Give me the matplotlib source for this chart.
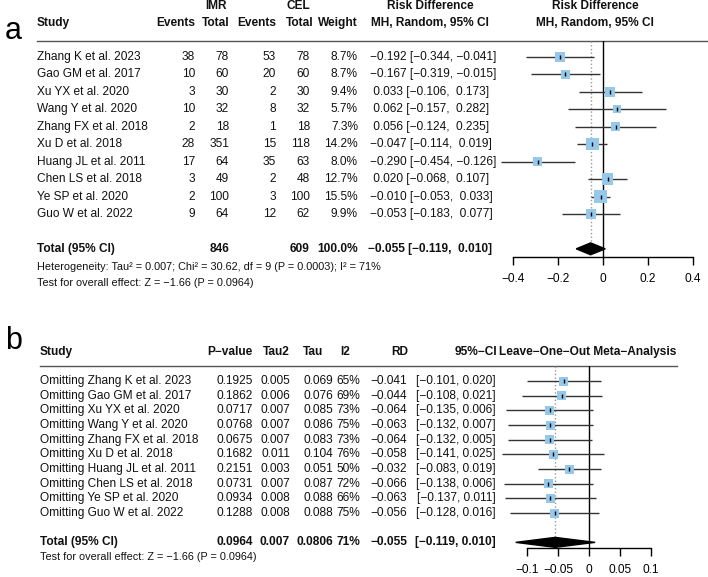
import numpy as np
import matplotlib
matplotlib.use("Agg")
import matplotlib.pyplot as plt
from matplotlib.transforms import blended_transform_factory

plt.rcParams['font.family'] = ['Liberation Sans', 'DejaVu Sans']

# ---- panel a data ----
studies = ["Zhang K et al. 2023", "Gao GM et al. 2017", "Xu YX et al. 2020",
           "Wang Y et al. 2020", "Zhang FX et al. 2018", "Xu D et al. 2018",
           "Huang JL et al. 2011", "Chen LS et al. 2018", "Ye SP et al. 2020",
           "Guo W et al. 2022"]
imr_events = [38, 10, 3, 10, 2, 28, 17, 3, 2, 9]
imr_total = [78, 60, 30, 32, 18, 351, 64, 49, 100, 64]
cel_events = [53, 20, 2, 8, 1, 15, 35, 2, 3, 12]
cel_total = [78, 60, 30, 32, 18, 118, 63, 48, 100, 62]
weight = [8.7, 8.7, 9.4, 5.7, 7.3, 14.2, 8.0, 12.7, 15.5, 9.9]
rd = [-0.192, -0.167, 0.033, 0.062, 0.056, -0.047, -0.290, 0.020, -0.010, -0.053]
rd_lo = [-0.344, -0.319, -0.106, -0.157, -0.124, -0.114, -0.454, -0.068, -0.053, -0.183]
rd_hi = [-0.041, -0.015, 0.173, 0.282, 0.235, 0.019, -0.126, 0.107, 0.033, 0.077]
tot_imr, tot_cel = 846, 609
pooled = (-0.055, -0.119, 0.010)
a_ticks = [-0.4, -0.2, 0, 0.2, 0.4]
a_ticklabels = ["\u22120.4", "\u22120.2", "0", "0.2", "0.4"]

# ---- panel b data (leave-one-out) ----
pval = [0.1925, 0.1862, 0.0717, 0.0768, 0.0675, 0.1682, 0.2151, 0.0731, 0.0934, 0.1288]
tau2 = [0.005, 0.006, 0.007, 0.007, 0.007, 0.011, 0.003, 0.007, 0.008, 0.008]
tau = [0.069, 0.076, 0.085, 0.086, 0.083, 0.104, 0.051, 0.087, 0.088, 0.088]
i2 = [65, 69, 73, 75, 73, 76, 50, 72, 66, 75]
loo_rd = [-0.041, -0.044, -0.064, -0.063, -0.064, -0.058, -0.032, -0.066, -0.063, -0.056]
loo_lo = [-0.101, -0.108, -0.135, -0.132, -0.132, -0.141, -0.083, -0.138, -0.137, -0.128]
loo_hi = [0.020, 0.021, 0.006, 0.007, 0.005, 0.025, 0.019, 0.006, 0.011, 0.016]
loo_total = ("0.0964", "0.007", "0.0806", "71%")
b_ticks = [-0.1, -0.05, 0, 0.05, 0.1]
b_ticklabels = ["\u22120.1", "\u22120.05", "0", "0.05", "0.1"]

W, H = 708, 577
FS = 8.6
SQ = '#96c8ea'
LC = '#333333'
M = "\u2212"

fig = plt.figure(figsize=(W / 100, H / 100), dpi=100)


def num(v, pad=True):
    s = f"{abs(v):.3f}"
    if v < 0:
        return M + s
    return (" " + s) if pad else s


def forest_axes(x0, x1, ytop, ybot, zero_px, scale, row0, step):
    ax = fig.add_axes([x0 / W, 1 - ybot / H, (x1 - x0) / W, (ybot - ytop) / H])
    ax.set_xlim((x0 - zero_px) / scale, (x1 - zero_px) / scale)
    ax.set_ylim((ybot - row0) / step, (ytop - row0) / step)
    for s in ['left', 'right', 'top']:
        ax.spines[s].set_visible(False)
    ax.set_yticks([])
    ax.patch.set_alpha(0)
    return ax


def finish_axis(ax, ticks, labels, pad):
    ax.set_xticks(ticks)
    ax.set_xticklabels(labels)
    ax.spines['bottom'].set_bounds(ticks[0], ticks[-1])
    ax.spines['bottom'].set_linewidth(1)
    ax.tick_params(axis='x', length=6, width=1, pad=pad, labelsize=FS)


# ================= panel a =================
row0, step = 57, 17.44
axa = forest_axes(480, 700, 41, 257, 603, 225, row0, step)
Ta = blended_transform_factory(fig.transFigure, axa.transData)
rows = np.arange(len(studies))
top_a = axa.get_ylim()[1]


def ra(px):
    return (px - row0) / step


def txt(ax, T, x, y, s, ha='left', bold=False, fs=FS):
    ax.text(x / W, y, s, transform=T, ha=ha, va='center', fontsize=fs,
            fontweight='bold' if bold else 'normal', color='#111111')


# header
txt(axa, Ta, 216, ra(6), "IMR", ha='center', bold=True)
txt(axa, Ta, 298, ra(6), "CEL", ha='center', bold=True)
txt(axa, Ta, 430, ra(6), "Risk Difference", ha='center', bold=True)
txt(axa, Ta, 595, ra(6), "Risk Difference", ha='center', bold=True)
txt(axa, Ta, 37, ra(23), "Study", bold=True)
txt(axa, Ta, 195, ra(23), "Events", ha='right', bold=True)
txt(axa, Ta, 229, ra(23), "Total", ha='right', bold=True)
txt(axa, Ta, 276, ra(23), "Events", ha='right', bold=True)
txt(axa, Ta, 313, ra(23), "Total", ha='right', bold=True)
txt(axa, Ta, 358, ra(23), "Weight", ha='right', bold=True)
txt(axa, Ta, 430, ra(23), "MH, Random, 95% CI", ha='center', bold=True)
txt(axa, Ta, 595, ra(23), "MH, Random, 95% CI", ha='center', bold=True)
axa.plot([37 / W, 708 / W], [top_a, top_a], transform=Ta, color='#555555',
         lw=1, clip_on=False)

for i, s in enumerate(studies):
    txt(axa, Ta, 37, i, s)
    txt(axa, Ta, 195, i, str(imr_events[i]), ha='right')
    txt(axa, Ta, 229, i, str(imr_total[i]), ha='right')
    txt(axa, Ta, 276, i, str(cel_events[i]), ha='right')
    txt(axa, Ta, 310, i, str(cel_total[i]), ha='right')
    txt(axa, Ta, 358, i, f"{weight[i]:.1f}%", ha='right')
    txt(axa, Ta, 370, i, f"{num(rd[i])} [{num(rd_lo[i])}, {num(rd_hi[i])}]")

tr = len(studies) + 1
txt(axa, Ta, 37, tr, "Total (95% CI)", bold=True)
txt(axa, Ta, 229, tr, str(tot_imr), ha='right', bold=True)
txt(axa, Ta, 310, tr, str(tot_cel), ha='right', bold=True)
txt(axa, Ta, 358, tr, "100.0%", ha='right', bold=True)
txt(axa, Ta, 368, tr, f"{num(pooled[0])} [{num(pooled[1])}, {num(pooled[2])}]", bold=True)
txt(axa, Ta, 37, ra(267),
    "Heterogeneity: Tau\u00b2 = 0.007; Chi\u00b2 = 30.62, df = 9 (P = 0.0003); I\u00b2 = 71%",
    fs=7.8)
txt(axa, Ta, 37, ra(283), "Test for overall effect: Z = \u22121.66 (P = 0.0964)", fs=7.8)

# forest marks
axa.axvline(0, color='black', lw=1)
h = 0.34
axa.vlines(pooled[0], top_a, tr - h, colors='#999999', linestyles=':', lw=1)
axa.hlines(rows, rd_lo, rd_hi, colors=LC, lw=1, zorder=2)
side = 3.3 * np.sqrt(weight) * 0.72
axa.scatter(rd, rows, s=side ** 2, marker='s', color=SQ, edgecolors='none', zorder=3)
axa.plot(rd, rows, '|', color='black', ms=3.5, mew=1, zorder=4)
axa.fill([pooled[1], pooled[0], pooled[2], pooled[0]], [tr, tr - h, tr, tr + h],
         color='black', zorder=4)
finish_axis(axa, a_ticks, a_ticklabels, 5.5)

# ================= panel b =================
row0b, stepb = 381, 14.67
axb = forest_axes(490, 680, 366, 548, 589, 616, row0b, stepb)
Tb = blended_transform_factory(fig.transFigure, axb.transData)
top_b = axb.get_ylim()[1]


def rb(px):
    return (px - row0b) / stepb


hy = rb(352)
txt(axb, Tb, 40, hy, "Study", bold=True)
txt(axb, Tb, 253, hy, "P\u2212value", ha='right', bold=True)
txt(axb, Tb, 290, hy, "Tau2", ha='right', bold=True)
txt(axb, Tb, 323, hy, "Tau", ha='right', bold=True)
txt(axb, Tb, 350, hy, "I2", ha='right', bold=True)
txt(axb, Tb, 408, hy, "RD", ha='right', bold=True)
txt(axb, Tb, 497, hy, "95%\u2212CI", ha='right', bold=True)
txt(axb, Tb, 499, hy, "Leave\u2212One\u2212Out Meta\u2212Analysis", bold=True)
axb.plot([40 / W, 677 / W], [top_b, top_b], transform=Tb, color='#555555',
         lw=1, clip_on=False)

for i, s in enumerate(studies):
    txt(axb, Tb, 40, i, "Omitting " + s)
    txt(axb, Tb, 253, i, f"{pval[i]:.4f}", ha='right')
    txt(axb, Tb, 290, i, f"{tau2[i]:.3f}", ha='right')
    txt(axb, Tb, 333, i, f"{tau[i]:.3f}", ha='right')
    txt(axb, Tb, 360, i, f"{i2[i]}%", ha='right')
    txt(axb, Tb, 407, i, num(loo_rd[i]), ha='right')
    txt(axb, Tb, 496, i, f"[{num(loo_lo[i])}, {num(loo_hi[i], pad=False)}]", ha='right')

txt(axb, Tb, 40, tr, "Total (95% CI)", bold=True)
txt(axb, Tb, 253, tr, loo_total[0], ha='right', bold=True)
txt(axb, Tb, 290, tr, loo_total[1], ha='right', bold=True)
txt(axb, Tb, 333, tr, loo_total[2], ha='right', bold=True)
txt(axb, Tb, 360, tr, loo_total[3], ha='right', bold=True)
txt(axb, Tb, 407, tr, num(pooled[0]), ha='right', bold=True)
txt(axb, Tb, 496, tr, f"[{num(pooled[1])}, {num(pooled[2], pad=False)}]", ha='right', bold=True)
txt(axb, Tb, 40, rb(557), "Test for overall effect: Z = \u22121.66 (P = 0.0964)", fs=7.8)

axb.axvline(0, color='black', lw=1)
axb.vlines(pooled[0], top_b, tr - h, colors='#999999', linestyles=':', lw=1)
axb.hlines(rows, loo_lo, loo_hi, colors=LC, lw=1, zorder=2)
axb.scatter(loo_rd, rows, s=(9 * 0.72) ** 2, marker='s', color=SQ,
            edgecolors='none', zorder=3)
axb.plot(loo_rd, rows, '|', color='black', ms=3.5, mew=1, zorder=4)
axb.fill([pooled[1], pooled[0], pooled[2], pooled[0]], [tr, tr - h, tr, tr + h],
         color='black', zorder=4)
finish_axis(axb, b_ticks, b_ticklabels, 5.5)

# panel letters
fig.text(5 / W, 1 - 31 / H, "a", fontsize=22, va='center', ha='left')
fig.text(5 / W, 1 - 341 / H, "b", fontsize=22, va='center', ha='left')

fig.savefig("out.png", dpi=100)
